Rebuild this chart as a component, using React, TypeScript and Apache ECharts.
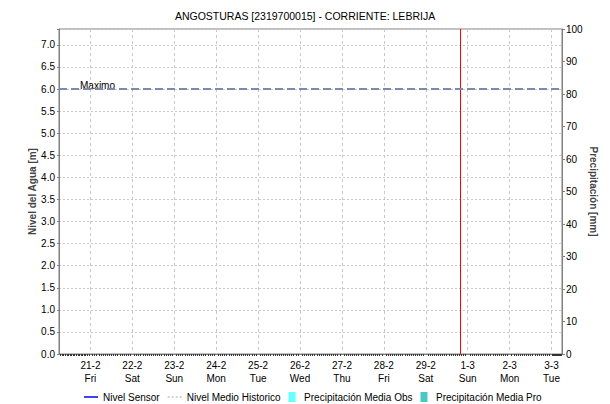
import React, { useEffect, useRef } from "react";
import * as echarts from "echarts";

const TITLE = "ANGOSTURAS [2319700015] - CORRIENTE: LEBRIJA";
const X_MIN = Date.UTC(2020, 1, 20, 6);
const X_MAX = Date.UTC(2020, 2, 3, 6);
const NOW_TIME = Date.UTC(2020, 1, 29, 20);
const DAY_NAMES = ["Sun", "Mon", "Tue", "Wed", "Thu", "Fri", "Sat"];
const LEVEL_MAX = 7.36;
const MAXIMO_LEVEL = 6.0;
const RAIN_MAX = 100;

const nivelSensor: [number, number][] = [];
const nivelMedioHistorico: [number, number][] = [];
const precipObs: [number, number][] = [];
const precipPro: [number, number][] = [];
const maximoLine: [number, number][] = [
  [X_MIN, MAXIMO_LEVEL],
  [X_MAX, MAXIMO_LEVEL],
];

const FONT = "'Liberation Sans', Arial, sans-serif";

export default function App() {
  const ref = useRef<HTMLDivElement>(null);
  useEffect(() => {
    if (!ref.current) return;
    const chart = echarts.init(ref.current, null, { renderer: "svg" });
    const DAY = 86400000;
    chart.setOption({
      animation: false,
      useUTC: true,
      backgroundColor: "#ffffff",
      textStyle: { fontFamily: FONT },
      title: {
        text: TITLE,
        left: "center",
        top: 10,
        padding: 0,
        textStyle: { fontFamily: FONT, fontSize: 10.5, fontWeight: "normal", color: "#000" },
      },
      grid: {
        left: 59,
        right: 48,
        top: 29,
        bottom: 50,
        outerBoundsMode: "none",
        containLabel: false,
        show: true,
        borderColor: "#808080",
        borderWidth: 1,
        backgroundColor: "#ffffff",
      },
      legend: {
        top: 392,
        left: 84,
        padding: 0,
        itemWidth: 14,
        itemHeight: 10,
        itemGap: 8,
        textStyle: { fontFamily: FONT, fontSize: 10, color: "#000" },
        data: [
          { name: "Nivel Sensor", icon: "path://M0,0h14v1.5H0z", itemStyle: { color: "#0000ff" } },
          {
            name: "Nivel Medio Historico",
            icon: "path://M0,0h2v1.5H0zM4,0h2v1.5H4zM8,0h2v1.5H8zM12,0h2v1.5H12z",
            itemStyle: { color: "#c4c4c4" },
          },
          { name: "Precipitación Media Obs", icon: "path://M0,0h7v10H0z", itemStyle: { color: "#66ffff" } },
          { name: "Precipitación Media Pro", icon: "path://M0,0h7v10H0z", itemStyle: { color: "#4cc8c4" } },
        ],
      },
      xAxis: [
        {
          type: "time",
          min: X_MIN,
          max: X_MAX,
          splitNumber: 12,
          minInterval: DAY,
          maxInterval: DAY,
          axisLine: { show: true, lineStyle: { color: "#808080" } },
          axisTick: { show: false },
          minorTick: { show: true, splitNumber: 20, length: 2, lineStyle: { color: "#333" } },
          splitLine: { show: true, lineStyle: { color: "#c8c8c8", type: [3, 3], width: 1 } },
          axisLabel: {
            showMinLabel: false,
            showMaxLabel: false,
            fontSize: 10,
            lineHeight: 13,
            color: "#000",
            margin: 5,
            formatter: (v: number) => {
              const d = new Date(v);
              return `${d.getUTCDate()}-${d.getUTCMonth() + 1}\n${DAY_NAMES[d.getUTCDay()]}`;
            },
          },
        },
        {
          type: "time",
          min: X_MIN,
          max: X_MAX,
          show: false,
        },
      ],
      yAxis: [
        {
          type: "value",
          min: 0,
          max: LEVEL_MAX,
          interval: 0.5,
          name: "Nivel del Agua [m]",
          nameLocation: "middle",
          nameGap: 22,
          nameMoveOverlap: false,
          nameRotate: 90,
          nameTextStyle: { fontFamily: FONT, fontSize: 10, fontWeight: "bold", color: "#444" },
          axisLine: { show: true, lineStyle: { color: "#808080" } },
          axisTick: { show: true, length: 2, lineStyle: { color: "#808080" } },
          splitLine: { show: true, lineStyle: { color: "#c8c8c8", type: [2, 2], width: 1 } },
          axisLabel: {
            fontSize: 10,
            color: "#000",
            margin: 4,
            formatter: (v: number) => (v > 7.01 ? "" : v.toFixed(1)),
          },
        },
        {
          type: "value",
          min: 0,
          max: RAIN_MAX,
          interval: 10,
          name: "Precipitación [mm]",
          nameLocation: "middle",
          nameGap: 26,
          nameMoveOverlap: false,
          nameRotate: -90,
          nameTextStyle: { fontFamily: FONT, fontSize: 10, fontWeight: "bold", color: "#444" },
          axisLine: { show: true, lineStyle: { color: "#808080" } },
          axisTick: { show: true, length: 3, lineStyle: { color: "#808080" } },
          splitLine: { show: false },
          axisLabel: { fontSize: 10, color: "#000", margin: 4 },
        },
      ],
      series: [
        {
          name: "Nivel Sensor",
          type: "line",
          data: nivelSensor,
          showSymbol: false,
          lineStyle: { color: "#0000ff", width: 1 },
          itemStyle: { color: "#0000ff" },
        },
        {
          name: "Nivel Medio Historico",
          type: "line",
          data: nivelMedioHistorico,
          showSymbol: false,
          lineStyle: { color: "#c4c4c4", width: 1, type: [2, 2] },
          itemStyle: { color: "#c4c4c4" },
        },
        {
          name: "Precipitación Media Obs",
          type: "bar",
          xAxisIndex: 1,
          yAxisIndex: 1,
          data: precipObs,
          itemStyle: { color: "#66ffff" },
        },
        {
          name: "Precipitación Media Pro",
          type: "bar",
          xAxisIndex: 1,
          yAxisIndex: 1,
          data: precipPro,
          itemStyle: { color: "#4cc8c4" },
        },
        {
          name: "Maximo",
          type: "line",
          data: maximoLine,
          symbol: "none",
          lineStyle: { color: "#7d89b0", width: 2, type: [8, 4] },
          z: 5,
          markLine: {
            silent: true,
            symbol: "none",
            data: [
              {
                yAxis: MAXIMO_LEVEL,
                lineStyle: { color: "rgba(0,0,0,0)", width: 1 },
                label: {
                  show: true,
                  position: "insideStartTop",
                  formatter: "Maximo",
                  fontSize: 10,
                  color: "#000",
                  distance: [21, -1],
                },
              },
              {
                xAxis: NOW_TIME,
                lineStyle: { color: "#ff0000", width: 1, type: "solid" },
                label: { show: false },
              },
            ],
          },
        },
      ],
    });
    return () => chart.dispose();
  }, []);
  return (
    <div
      ref={ref}
      style={{ position: "fixed", left: 0, top: 0, width: 610, height: 404 }}
    />
  );
}
